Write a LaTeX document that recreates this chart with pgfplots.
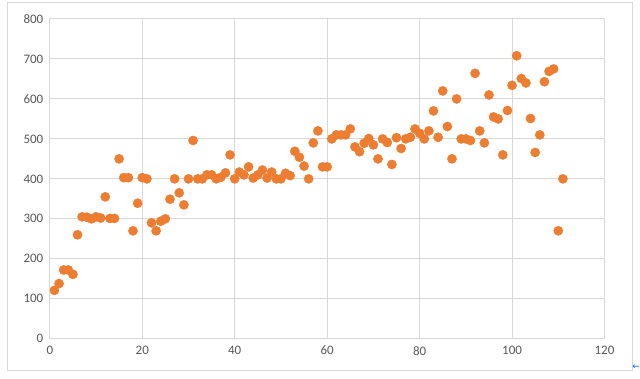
\documentclass[border=0pt]{standalone}
\usepackage{fontspec}
\setmainfont{Carlito}
\newfontfamily\dejavu{DejaVu Sans}
\usepackage{pgfplots}
\pgfplotsset{compat=1.18}
\definecolor{xlorange}{HTML}{ED7D31}
\definecolor{gridgray}{HTML}{D9D9D9}
\definecolor{ticktext}{HTML}{595959}
\begin{document}
\begin{tikzpicture}[x=1bp,y=1bp]
\path[use as bounding box,fill=white] (0,0) rectangle (640,378);
\draw[gridgray,line width=1bp] (7,8) rectangle (632,375);
\begin{axis}[
  at={(49.8bp,39.3bp)}, anchor=south west,
  scale only axis,
  width=554.7bp, height=319.7bp,
  xmin=0, xmax=120, ymin=0, ymax=800,
  xtick={0,20,...,120}, ytick={0,100,...,800},
  grid=major,
  major grid style={gridgray,line width=1bp},
  axis line style={gridgray,line width=1bp},
  tick style={draw=none},
  ticklabel style={font=\fontsize{13}{14}\selectfont, text=ticktext},
  /pgf/number format/assume math mode=true,
  xticklabel style={yshift=-4bp},
  yticklabel style={xshift=-3bp},
  clip=false,
]
\addplot[only marks, mark=*, mark size=4.6bp, mark options={draw=xlorange, fill=xlorange}] coordinates {
(1,121) (2,138) (3,172) (4,172) (5,161) (6,260) (7,305) (8,304) (9,300) (10,305)
(11,302) (12,355) (13,301) (14,301) (15,450) (16,403) (17,403) (18,270) (19,339) (20,403)
(21,400) (22,290) (23,270) (24,294) (25,300) (26,349) (27,400) (28,365) (29,335) (30,400)
(31,496) (32,400) (33,400) (34,410) (35,410) (36,400) (37,404) (38,415) (39,460) (40,400)
(41,417) (42,410) (43,430) (44,402) (45,410) (46,422) (47,402) (48,417) (49,400) (50,400)
(51,414) (52,408) (53,469) (54,454) (55,432) (56,400) (57,490) (58,520) (59,430) (60,430)
(61,500) (62,510) (63,510) (64,510) (65,525) (66,480) (67,468) (68,489) (69,501) (70,485)
(71,450) (72,500) (73,491) (74,436) (75,503) (76,476) (77,500) (78,504) (79,525) (80,514)
(81,500) (82,520) (83,570) (84,504) (85,620) (86,531) (87,450) (88,600) (89,500) (90,500)
(91,496) (92,664) (93,520) (94,490) (95,610) (96,555) (97,550) (98,460) (99,571) (100,634)
(101,708) (102,651) (103,640) (104,551) (105,466) (106,510) (107,643) (108,669) (109,675) (110,270)
(111,400)
};
\end{axis}
\node[text=blue!60!cyan, font=\dejavu\fontsize{9}{9}\selectfont, inner sep=0pt] at (636,11) {←};
\end{tikzpicture}
\end{document}
